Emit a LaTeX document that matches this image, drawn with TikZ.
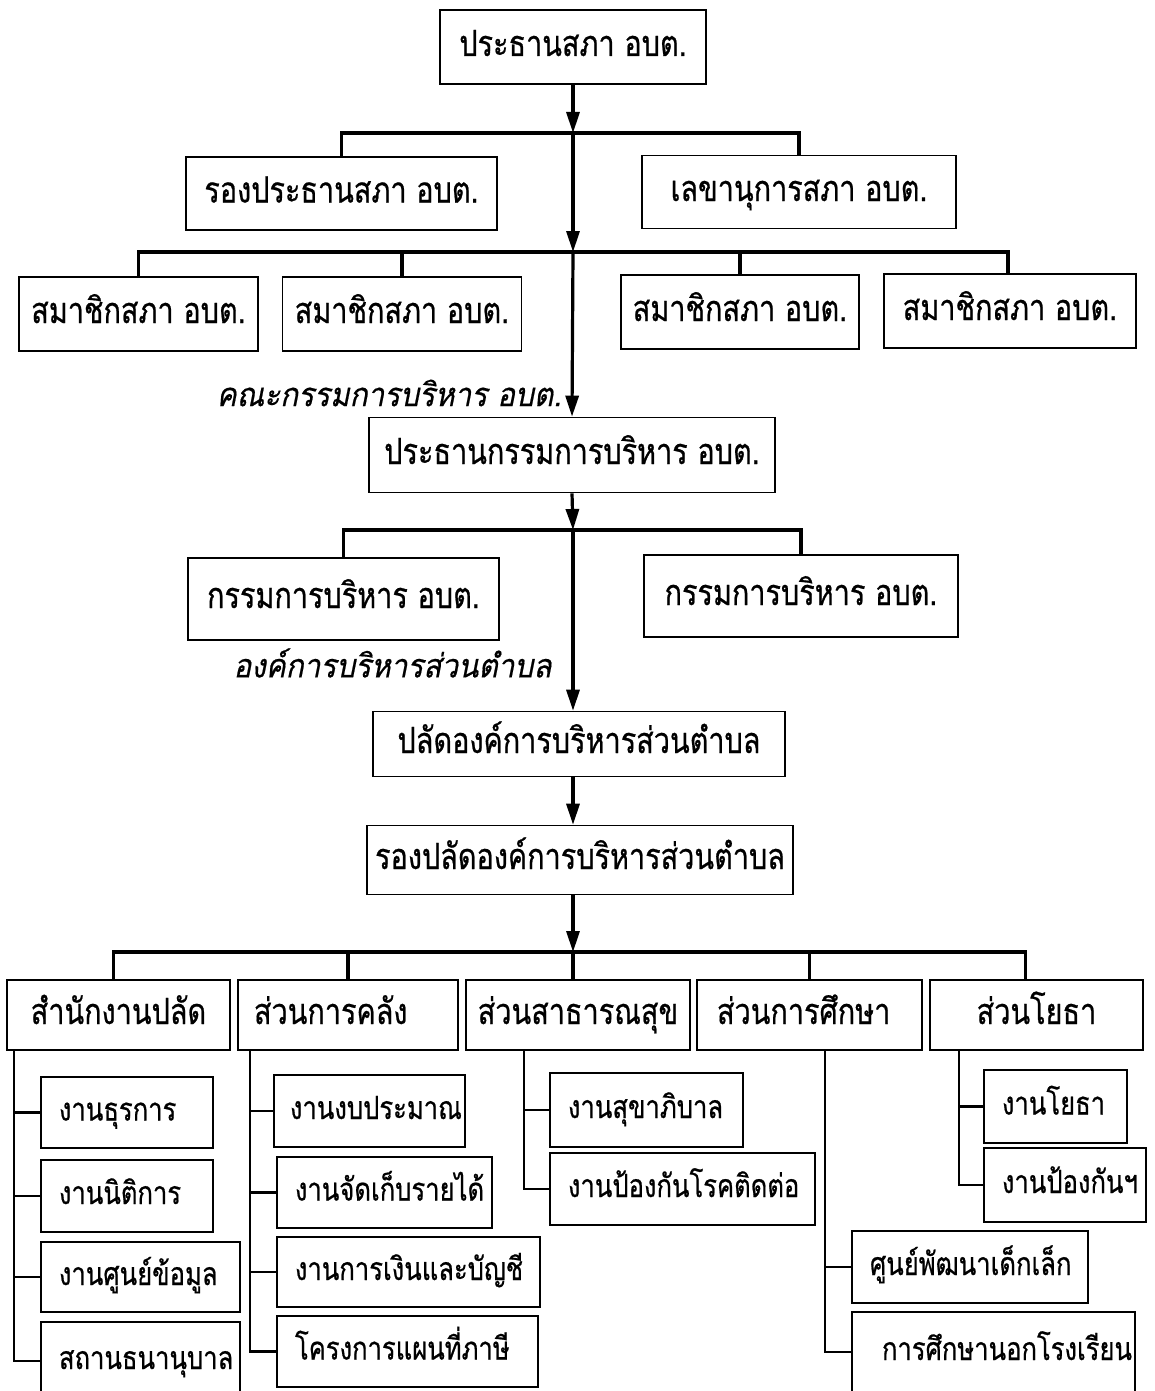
\documentclass[tikz,border=0pt]{standalone}
\usepackage{fontspec}
\newfontfamily\thaifont[Script=Thai,FakeStretch=0.8,FakeBold=0.6]{Loma}
\newfontfamily\thaiitfont[Script=Thai,FakeSlant=0.2,FakeStretch=0.9,FakeBold=0.5]{Loma}
\usetikzlibrary{arrows.meta,positioning}

\begin{document}
\begin{tikzpicture}[x=1pt, y=-1pt,
    box/.style={draw, line width=1.6pt, inner sep=0pt, text height=24pt, text depth=6pt, font=\thaifont\fontsize{36}{40}\selectfont},
    sub/.style={box, inner xsep=18pt, align=left, text height=22pt, text depth=6pt, font=\thaifont\fontsize{32}{36}\selectfont},
    trunk/.style={line width=3.2pt},
    branch/.style={line width=2.2pt},
    down/.style={trunk, -{Triangle[length=21pt,width=13pt]}},
    note/.style={font=\thaiitfont\fontsize{33}{36}\selectfont, anchor=east}]
  \useasboundingbox (0,0) rectangle (1155,1391);

  % council
  \node[box, minimum width=266pt, minimum height=74pt] (chair) at (573,47) {ประธานสภา อบต.};
  \node[box, minimum width=311pt, minimum height=73pt] (vchair) at (341.5,193.5) {รองประธานสภา อบต.};
  \node[box, minimum width=314pt, minimum height=73pt] (secr) at (799,192) {เลขานุการสภา อบต.};
  \node[box, minimum width=239pt, minimum height=74pt] (mem1) at (138.5,314) {สมาชิกสภา อบต.};
  \node[box, minimum width=239pt, minimum height=74pt] (mem2) at (402,314) {สมาชิกสภา อบต.};
  \node[box, minimum width=238pt, minimum height=74pt] (mem3) at (740,312) {สมาชิกสภา อบต.};
  \node[box, minimum width=252pt, minimum height=74pt] (mem4) at (1010,311) {สมาชิกสภา อบต.};

  % executive
  \node[note] (lbl1) at (565,393) {คณะกรรมการบริหาร อบต.};
  \node[box, minimum width=406pt, minimum height=75pt] (exec) at (572,455) {ประธานกรรมการบริหาร อบต.};
  \node[box, minimum width=311pt, minimum height=82pt] (exec1) at (343.5,599) {กรรมการบริหาร อบต.};
  \node[box, minimum width=314pt, minimum height=82pt] (exec2) at (801,596) {กรรมการบริหาร อบต.};
  \node[note] (lbl2) at (555,663) {องค์การบริหารส่วนตำบล};
  \node[box, minimum width=412pt, minimum height=65pt] (clerk) at (579,744) {ปลัดองค์การบริหารส่วนตำบล};
  \node[box, minimum width=426pt, minimum height=69pt] (vclerk) at (580,860) {รองปลัดองค์การบริหารส่วนตำบล};

  % divisions
  \node[box, minimum width=223pt, minimum height=70pt] (off) at (118.5,1015) {สำนักงานปลัด};
  \node[box, align=left, inner xsep=16pt, text width=188pt, minimum height=70pt] (fin) at (348,1015) {ส่วนการคลัง};
  \node[box, minimum width=224pt, minimum height=70pt] (health) at (578,1015) {ส่วนสาธารณสุข};
  \node[box, align=left, inner xsep=20pt, text width=185pt, minimum height=70pt] (edu) at (809.5,1015) {ส่วนการศึกษา};
  \node[box, minimum width=213pt, minimum height=70pt] (works) at (1036.5,1015) {ส่วนโยธา};

  % sections
  \node[sub, text width=136pt, minimum height=71pt] (off1) at (127,1112.5) {งานธุรการ};
  \node[sub, text width=136pt, minimum height=72pt] (off2) at (127,1196) {งานนิติการ};
  \node[sub, text width=163pt, minimum height=70pt] (off3) at (140.5,1277) {งานศูนย์ข้อมูล};
  \node[sub, text width=163pt, minimum height=78pt] (off4) at (140.5,1361) {สถานธนานุบาล};
  \node[sub, inner xsep=16pt, text width=159pt, minimum height=72pt] (fin1) at (369.5,1111) {งานงบประมาณ};
  \node[sub, text width=179pt, minimum height=71pt] (fin2) at (384.5,1192.5) {งานจัดเก็บรายได้};
  \node[sub, text width=227pt, minimum height=70pt] (fin3) at (408.5,1272) {งานการเงินและบัญชี};
  \node[sub, text width=225pt, minimum height=71pt] (fin4) at (407.5,1351.5) {โครงการแผนที่ภาษี};
  \node[sub, text width=157pt, minimum height=74pt] (health1) at (646.5,1110) {งานสุขาภิบาล};
  \node[sub, text width=229pt, minimum height=72pt] (health2) at (682.5,1189) {งานป้องกันโรคติดต่อ};
  \node[sub, text width=200pt, minimum height=72pt] (edu1) at (970,1267) {ศูนย์พัฒนาเด็กเล็ก};
  \node[sub, inner xsep=30pt, text width=223pt, minimum height=80pt] (edu2) at (993.5,1352) {การศึกษานอกโรงเรียน};
  \node[sub, text width=107pt, minimum height=73pt] (works1) at (1055.5,1106.5) {งานโยธา};
  \node[sub, text width=126pt, minimum height=74pt] (works2) at (1065,1185) {งานป้องกันฯ};

  % joints on the main line
  \coordinate (j1) at (573,133);
  \coordinate (j2) at (573,252);
  \coordinate (j3) at (573,530);
  \coordinate (j4) at (573,952);

  \draw[down] (chair.south) -- (j1);
  \draw[trunk] (vchair.north) |- (j1) -| (secr.north);
  \draw[down] (j1) -- (j2);
  \draw[trunk] (mem1.north) |- (j2) -| ([xshift=-2pt]mem4.north);
  \draw[trunk] (mem2.north) -- (mem2.north |- j2);
  \draw[trunk] (mem3.north) -- (mem3.north |- j2);
  \draw[down] (j2) -- (exec.north);
  \draw[down] (exec.south) -- (j3);
  \draw[trunk] (exec1.north) |- (j3) -| (exec2.north);
  \draw[down] (j3) -- (j3 |- clerk.north);
  \draw[down] (j3 |- clerk.south) -- (j3 |- vclerk.north);
  \draw[down] (j3 |- vclerk.south) -- (j4);
  \draw[trunk] ([xshift=-5pt]off.north) |- (j4) -| ([xshift=-11pt]works.north);
  \draw[trunk] (j4) -- (j4 |- health.north);
  \draw[trunk] (fin.north) -- (fin.north |- j4);
  \draw[trunk] (edu.north) -- (edu.north |- j4);

  % section branches
  \foreach \k in {off1,off2,off3,off4}
    \draw[branch] ([xshift=8pt]off.south west) |- (\k.west);
  \foreach \k in {fin1,fin2,fin3,fin4}
    \draw[branch] ([xshift=13pt]fin.south west) |- (\k.west);
  \foreach \k in {health1,health2}
    \draw[branch] ([xshift=59pt]health.south west) |- (\k.west);
  \foreach \k in {edu1,edu2}
    \draw[branch] ([xshift=129pt]edu.south west) |- (\k.west);
  \foreach \k in {works1,works2}
    \draw[branch] ([xshift=30pt]works.south west) |- (\k.west);
\end{tikzpicture}
\end{document}
